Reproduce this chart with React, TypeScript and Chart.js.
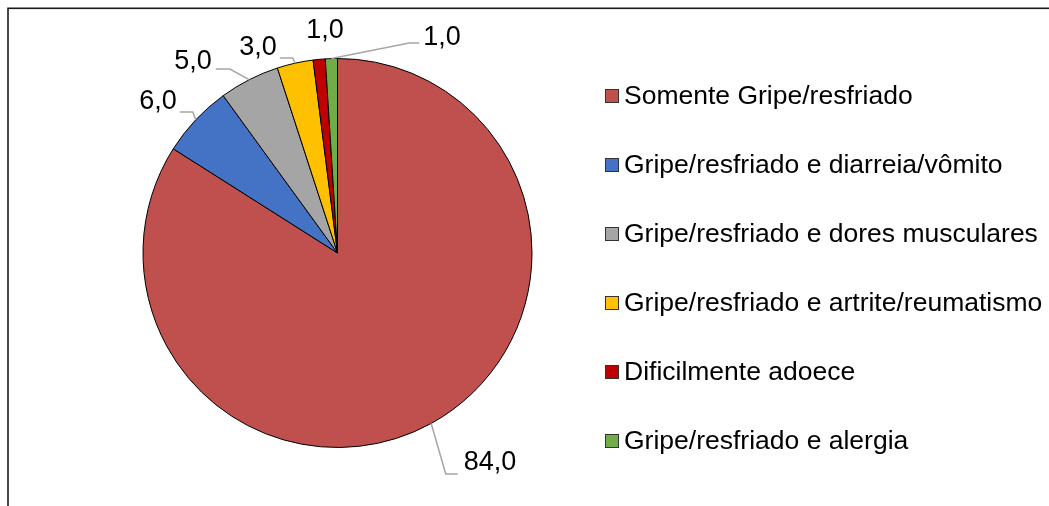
import React, { useEffect, useRef } from "react";
import { Chart, registerables } from "chart.js";

Chart.register(...registerables);

const categories = [
  "Somente Gripe/resfriado",
  "Gripe/resfriado e diarreia/vômito",
  "Gripe/resfriado e dores musculares",
  "Gripe/resfriado e artrite/reumatismo",
  "Dificilmente adoece",
  "Gripe/resfriado e alergia",
];
const values = [84, 6, 5, 3, 1, 1];
const colors = ["#C0504D", "#4472C4", "#A5A5A5", "#FFC000", "#C00000", "#70AD47"];

// label placement (text centre offset from pie centre, leader-line attachment)
const labelLayout = [
  { dx: 152.5, dy: 210, side: "left", lineDy: 11, near: 6, far: 18 },
  { dx: -179.5, dy: -151, side: "right", lineDy: 10, near: 3, far: 16 },
  { dx: -144.5, dy: -191, side: "right", lineDy: 7, near: 4, far: 18 },
  { dx: -79.5, dy: -205, side: "right", lineDy: 10, near: 3, far: 16 },
  { dx: -12.5, dy: -222, side: "none", lineDy: 0, near: 0, far: 0 },
  { dx: 104.5, dy: -215, side: "left", lineDy: 5, near: 4, far: 14 },
];

const W = 1049;
const H = 506;
const FONT = "'Liberation Sans', Arial, sans-serif";

const fmt = (v: number) => v.toFixed(1).replace(".", ",");

const decorPlugin = {
  id: "decor",
  beforeDraw(chart: any) {
    const ctx = chart.ctx;
    ctx.save();
    ctx.fillStyle = "#ffffff";
    ctx.fillRect(0, 0, chart.width, chart.height);
    ctx.strokeStyle = "#1a1a1a";
    ctx.lineWidth = 1.6;
    ctx.strokeRect(8, 8.3, chart.width + 20, chart.height + 20);
    ctx.restore();
  },
  afterDatasetsDraw(chart: any) {
    const ctx = chart.ctx;
    const meta = chart.getDatasetMeta(0);
    const ds = chart.data.datasets[0];
    ctx.save();
    ctx.font = `27px ${FONT}`;
    ctx.textBaseline = "middle";
    ctx.textAlign = "center";
    meta.data.forEach((arc: any, i: number) => {
      const { x, y, startAngle, endAngle, outerRadius } = arc.getProps(
        ["x", "y", "startAngle", "endAngle", "outerRadius"],
        true
      );
      const mid = (startAngle + endAngle) / 2;
      const ex = x + Math.cos(mid) * outerRadius;
      const ey = y + Math.sin(mid) * outerRadius;
      const L = labelLayout[i];
      const tx = x + L.dx;
      const ty = y + L.dy;
      const text = fmt(ds.data[i]);
      const w = ctx.measureText(text).width;
      if (L.side !== "none") {
        const ly = ty + L.lineDy;
        let endX, elbowX;
        if (L.side === "left") {
          endX = tx - w / 2 - L.near;
          elbowX = tx - w / 2 - L.far;
        } else {
          endX = tx + w / 2 + L.near;
          elbowX = tx + w / 2 + L.far;
        }
        ctx.strokeStyle = "#A6A6A6";
        ctx.lineWidth = 1.5;
        ctx.beginPath();
        ctx.moveTo(ex, ey);
        ctx.lineTo(elbowX, ly);
        ctx.lineTo(endX, ly);
        ctx.stroke();
      }
      ctx.fillStyle = "#000000";
      ctx.fillText(text, tx, ty);
    });

    // legend
    const rowY0 = 96;
    const rowStep = 69;
    ctx.font = `26.5px ${FONT}`;
    ctx.textAlign = "left";
    chart.data.labels.forEach((lab: string, i: number) => {
      const cy = rowY0 + i * rowStep;
      ctx.fillStyle = ds.backgroundColor[i];
      ctx.fillRect(605.5, cy - 6.5, 13, 13);
      ctx.strokeStyle = "#333333";
      ctx.lineWidth = 1;
      ctx.strokeRect(605.5, cy - 6.5, 13, 13);
      ctx.fillStyle = "#000000";
      ctx.fillText(lab, 624, cy + 1);
    });
    ctx.restore();
  },
};

export default function App() {
  const ref = useRef<HTMLCanvasElement | null>(null);
  useEffect(() => {
    document.body.style.margin = "0";
    document.body.style.overflow = "hidden";
    if (!ref.current) return;
    const chart = new Chart(ref.current, {
      type: "pie",
      data: {
        labels: categories,
        datasets: [
          {
            data: values,
            backgroundColor: colors,
            borderColor: "#000000",
            borderWidth: 1,
          },
        ],
      },
      options: {
        responsive: false,
        animation: false,
        layout: { padding: { left: 142.5, right: W - 532.5, top: 58, bottom: H - 448 } },
        plugins: {
          legend: { display: false },
          tooltip: { enabled: false },
        },
      },
      plugins: [decorPlugin],
    });
    return () => chart.destroy();
  }, []);
  return (
    <div style={{ width: W, height: H }}>
      <canvas ref={ref} width={W} height={H} style={{ width: W, height: H, display: "block" }} />
    </div>
  );
}
